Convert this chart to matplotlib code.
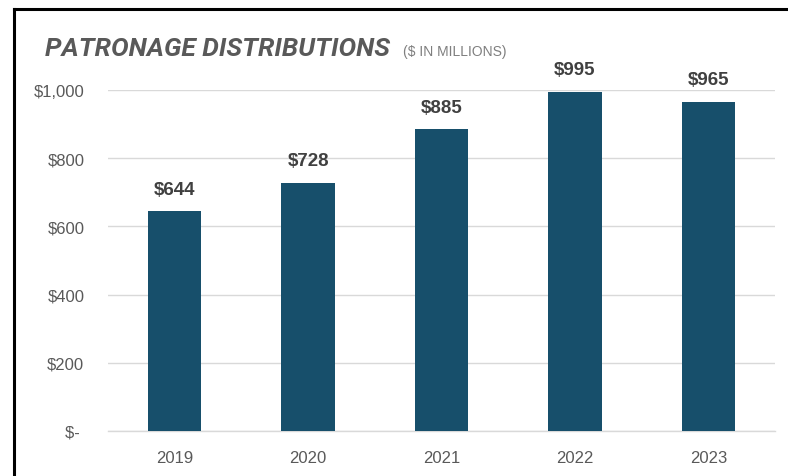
import matplotlib.pyplot as plt
from matplotlib.lines import Line2D

# data
years = ["2019", "2020", "2021", "2022", "2023"]
values = [644, 728, 885, 995, 965]
ytick_vals = [0, 200, 400, 600, 800, 1000]
ytick_labels = ["$- ", "$200", "$400", "$600", "$800", "$1,000"]

W, H = 788, 477
fig = plt.figure(figsize=(W / 100, H / 100), dpi=100)
ax = fig.add_axes([108 / W, 45 / H, 667 / W, 341 / H])

bar_color = "#174F6B"
grid_color = "#D9D9D9"
tick_color = "#595959"

x = list(range(len(years)))
ax.bar(x, values, width=0.40, color=bar_color, zorder=3)

for xi, v in zip(x, values):
    ax.text(xi, v + 40, f"${v:,}", ha="center", va="bottom",
            fontsize=13.5, fontweight="bold", color="#404040",
            family="Liberation Sans")

ax.set_xlim(-0.5, len(years) - 0.5)
ax.set_ylim(0, 1000)
ax.set_yticks(ytick_vals)
ax.set_yticklabels(ytick_labels)
ax.set_xticks(x)
ax.set_xticklabels(years)
ax.yaxis.grid(True, color=grid_color, linewidth=1.0, zorder=0)
ax.tick_params(axis="both", length=0, labelsize=12, labelcolor=tick_color)
ax.tick_params(axis="y", pad=17)
ax.tick_params(axis="x", pad=14)
for lab in ax.get_xticklabels() + ax.get_yticklabels():
    lab.set_family("Liberation Sans")
for s in ["top", "right", "left"]:
    ax.spines[s].set_visible(False)
ax.spines["bottom"].set_color(grid_color)
ax.spines["bottom"].set_linewidth(1.0)

# title
fig.text(45 / W, 1 - 56 / H, "PATRONAGE DISTRIBUTIONS", ha="left", va="baseline",
         fontsize=19, fontweight="bold", fontstyle="italic", color="#595959",
         family="Roboto")
fig.text(403 / W, 1 - 56 / H, "($ IN MILLIONS)", ha="left", va="baseline",
         fontsize=10, color="#7F7F7F", family="Liberation Sans")

# black frame
fig.add_artist(Line2D([14 / W, 14 / W], [0, 1 - 10 / H], color="black",
                      linewidth=2.2, transform=fig.transFigure))
fig.add_artist(Line2D([14 / W, 1], [1 - 10 / H, 1 - 10 / H], color="black",
                      linewidth=2.2, transform=fig.transFigure))

fig.savefig("out.png", dpi=100)
